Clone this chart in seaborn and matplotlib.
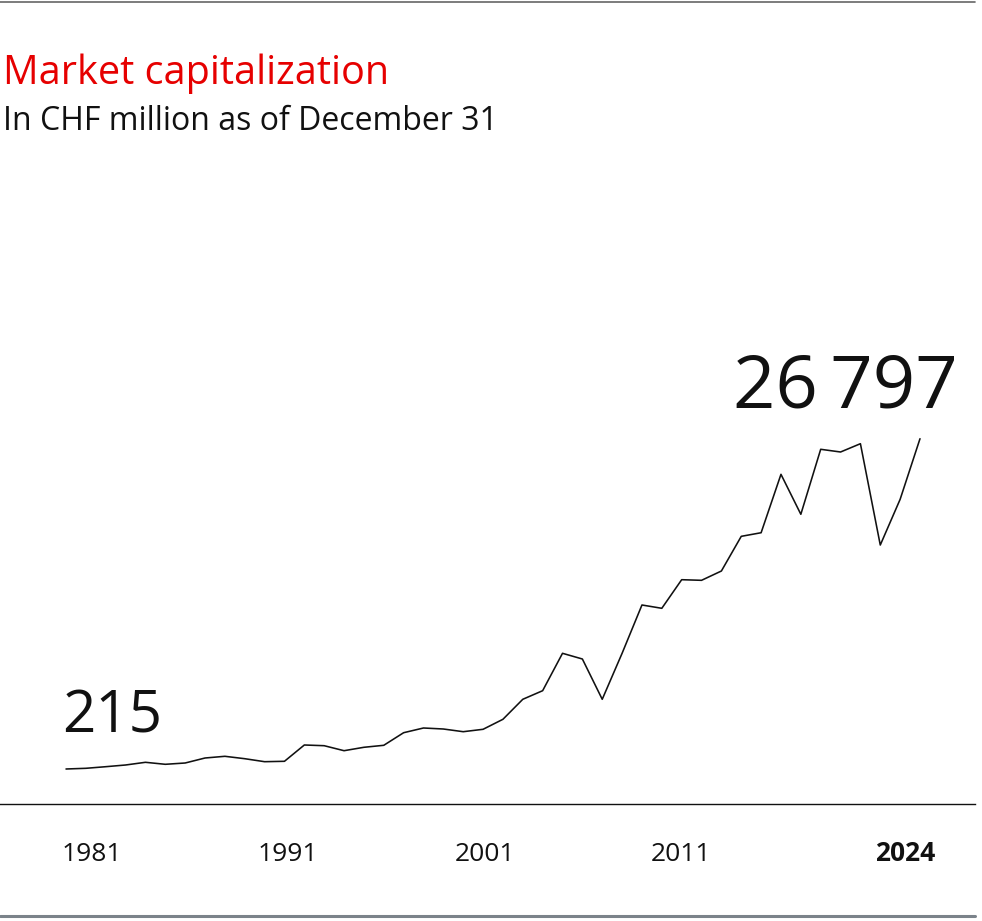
import numpy as np
import pandas as pd
import matplotlib.pyplot as plt
from matplotlib.lines import Line2D
import seaborn as sns

# Datos (CHF millones, 31 de diciembre)
years = list(range(1981, 2025))
market_cap = [
    215, 271, 400, 537, 754, 593, 698, 1100, 1237, 1044,
    803, 835, 2147, 2090, 1688, 1962, 2122, 3136, 3515, 3434,
    3217, 3410, 4215, 5825, 6517, 9526, 9068, 5825, 9526, 13414,
    13148, 15450, 15400, 16150, 18940, 19230, 23930, 20715, 25945, 25727,
    26395, 18240, 21920, 26797,
]
tick_years = [1981, 1991, 2001, 2011, 2024]
tick_labels = ["1981", "1991", "2001", "2011", "2024"]

title = "Market capitalization"
subtitle = "In CHF million as of December 31"

sns.set_theme(style="white")
plt.rcParams['font.family'] = ['Open Sans', 'DejaVu Sans']

W, H = 982, 921
fig = plt.figure(figsize=(W / 100, H / 100), dpi=100)

# eje en coordenadas de píxel
ax_top, ax_bottom = 150, 804
ax = fig.add_axes([0, (H - ax_bottom) / H, 975 / W, (ax_bottom - ax_top) / H])

df = pd.DataFrame({'year': years, 'value': market_cap})
sns.lineplot(data=df, x='year', y='value', color='#111111', linewidth=1.15, ax=ax)

px_year = (920 - 66) / 43
ax.set_xlim(1981 - 66 / px_year, 2024 + 55 / px_year)
unit = 80.48
ymin = 215 - 35 * unit
ax.set_ylim(ymin, ymin + (ax_bottom - ax_top) * unit)

for s in ['top', 'right', 'left']:
    ax.spines[s].set_visible(False)
ax.spines['bottom'].set_color('#111111')
ax.spines['bottom'].set_linewidth(1.0)
ax.set_xticks([])
ax.set_yticks([])
ax.set_xlabel('')
ax.set_ylabel('')

# etiquetas de años
offsets = [-3, -5, -6, -8, 11]
for yr, lab, off in zip(tick_years, tick_labels, offsets):
    bold = yr == 2024
    ax.annotate(lab, xy=(yr, 0), xycoords=('data', 'axes fraction'),
                xytext=(off, -41), textcoords='offset points',
                ha='right' if bold else 'left', va='baseline',
                fontsize=19, color='#111111',
                fontweight='bold' if bold else 'normal')

# valores inicial y final
ax.annotate("215", xy=(years[0], market_cap[0]), xytext=(-3, 26.6),
            textcoords='offset points', ha='left', va='baseline',
            fontsize=42, color='#111111')
ax.annotate("26\u2009797", xy=(years[-1], market_cap[-1]), xytext=(27.4, 22.8),
            textcoords='offset points', ha='right', va='baseline',
            fontsize=53.5, color='#111111')

# títulos
fig.text(3 / W, 1 - 84 / H, title, color='#e60000', fontsize=28.5,
         ha='left', va='baseline')
fig.text(3 / W, 1 - 130 / H, subtitle, color='#111111', fontsize=23,
         ha='left', va='baseline')

# líneas decorativas
fig.add_artist(Line2D([0, 975 / W], [1 - 2 / H, 1 - 2 / H], color='#666666',
                      linewidth=1.2, transform=fig.transFigure))
fig.add_artist(Line2D([0, 975 / W], [1 - 916 / H, 1 - 916 / H], color='#7b838a',
                      linewidth=2.2, transform=fig.transFigure))

fig.savefig('out.png', dpi=100)
